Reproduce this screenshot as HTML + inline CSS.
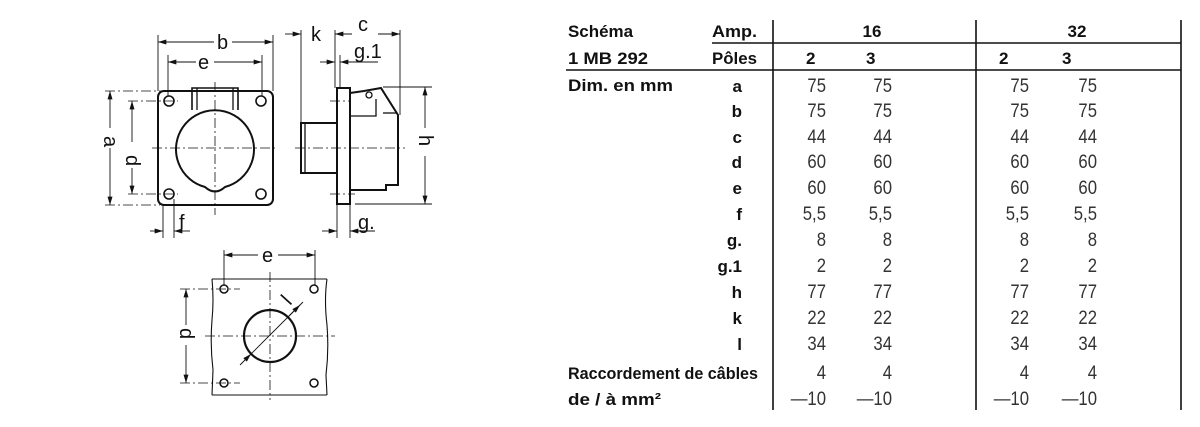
<!DOCTYPE html>
<html><head><meta charset="utf-8"><style>
html,body{margin:0;padding:0;background:#fff;}
svg{display:block;}
.b{font-family:"Liberation Sans",sans-serif;font-weight:bold;font-size:17px;fill:#111;}
.v{font-family:"Liberation Sans",sans-serif;font-size:19px;fill:#333;}
.l{font-family:"Liberation Sans",sans-serif;font-size:20px;fill:#111;}
</style></head><body>
<svg width="1200" height="427" viewBox="0 0 1200 427" xmlns="http://www.w3.org/2000/svg">
<defs>
<marker id="ar" viewBox="0 0 10 6" refX="10" refY="3" markerWidth="12" markerHeight="5" orient="auto-start-reverse" markerUnits="userSpaceOnUse"><path d="M0,0L10,3L0,6z" fill="#111"/></marker>
</defs>
<g stroke="#111" fill="none" stroke-width="1.3">
<!-- front view -->
<rect x="158" y="91" width="115" height="114" rx="6" stroke-width="2"/>
<path d="M192,110 L192,88 L238,88 L238,110" stroke-width="1.6"/>
<line x1="197" y1="88" x2="197" y2="110"/><line x1="233" y1="88" x2="233" y2="110"/>
<path d="M225,187 A39,39 0 1 0 205,187 Q215,196 225,187 Z" stroke-width="2"/>
<circle cx="169" cy="101" r="5" stroke-width="1.6"/><circle cx="261" cy="101" r="5" stroke-width="1.6"/>
<circle cx="169" cy="194" r="5" stroke-width="1.6"/><circle cx="261" cy="194" r="5" stroke-width="1.6"/>
<g stroke-dasharray="10,3,2,3" stroke-width="0.8">
<line x1="152" y1="148" x2="275" y2="148"/><line x1="215" y1="82" x2="215" y2="215"/>
<line x1="105" y1="91" x2="170" y2="91"/><line x1="128" y1="101" x2="178" y2="101"/>
<line x1="128" y1="194" x2="178" y2="194"/><line x1="105" y1="205" x2="160" y2="205"/>
</g>
<g stroke-width="0.9">
<line x1="158" y1="35" x2="158" y2="91"/><line x1="273" y1="35" x2="273" y2="91"/>
<line x1="168" y1="55" x2="168" y2="96"/><line x1="262" y1="55" x2="262" y2="96"/>
<line x1="163" y1="205" x2="163" y2="238"/><line x1="174" y1="199" x2="174" y2="238"/>
<line x1="158" y1="42" x2="214" y2="42" marker-start="url(#ar)"/><line x1="232" y1="42" x2="273" y2="42" marker-end="url(#ar)"/>
<line x1="168" y1="62" x2="196" y2="62" marker-start="url(#ar)"/><line x1="214" y1="62" x2="262" y2="62" marker-end="url(#ar)"/>
<line x1="110" y1="91" x2="110" y2="128" marker-start="url(#ar)"/><line x1="110" y1="148" x2="110" y2="205" marker-end="url(#ar)"/>
<line x1="132" y1="101" x2="132" y2="142" marker-start="url(#ar)"/><line x1="132" y1="168" x2="132" y2="194" marker-end="url(#ar)"/>
<line x1="150" y1="231" x2="163" y2="231" marker-end="url(#ar)"/><line x1="174" y1="231" x2="190" y2="231" marker-start="url(#ar)"/>
</g>
<!-- side view -->
<rect x="337" y="88" width="13" height="116" stroke-width="2"/>
<rect x="301" y="123" width="36" height="50" stroke-width="2"/>
<line x1="305" y1="123" x2="305" y2="173"/>
<path d="M350,93 L350,190 L386,190 L386,185 L398,185 L398,115 L381,88 L364,91 L350,93" stroke-width="2"/>
<path d="M350,116 L376,116 L376,99"/><line x1="383" y1="113" x2="396" y2="113"/>
<circle cx="369" cy="95" r="3"/>
<g stroke-width="0.9">
<line x1="301" y1="30" x2="301" y2="123"/><line x1="335" y1="30" x2="335" y2="88"/>
<line x1="400" y1="30" x2="400" y2="115"/><line x1="340" y1="55" x2="340" y2="88"/>
<line x1="285" y1="34" x2="301" y2="34" marker-end="url(#ar)"/>
<line x1="335" y1="34" x2="352" y2="34" marker-start="url(#ar)"/><line x1="378" y1="34" x2="400" y2="34" marker-end="url(#ar)"/>
<line x1="320" y1="62" x2="335" y2="62" marker-end="url(#ar)"/><line x1="340" y1="62" x2="378" y2="62" marker-start="url(#ar)"/>
<line x1="383" y1="87" x2="432" y2="87"/><line x1="355" y1="204" x2="432" y2="204"/>
<line x1="425" y1="87" x2="425" y2="128" marker-start="url(#ar)"/><line x1="425" y1="156" x2="425" y2="204" marker-end="url(#ar)"/>
<line x1="337" y1="204" x2="337" y2="238"/><line x1="350" y1="204" x2="350" y2="238"/>
<line x1="322" y1="231" x2="337" y2="231" marker-end="url(#ar)"/><line x1="350" y1="231" x2="375" y2="231" marker-start="url(#ar)"/>
</g>
<g stroke-dasharray="10,3,2,3" stroke-width="0.8"><line x1="295" y1="148" x2="405" y2="148"/><line x1="330" y1="101" x2="350" y2="101"/><line x1="330" y1="194" x2="355" y2="194"/></g>
<!-- bottom cutout -->
<path d="M212,279 Q214,300 212,320 Q210,345 213,370 L212,395 M212,279 L327,279 M327,279 Q324,300 327,325 Q329,350 326,375 L327,395 M212,395 L327,395" stroke-width="1.1"/>
<circle cx="270" cy="336" r="26" stroke-width="2.2"/>
<circle cx="224" cy="289" r="4" stroke-width="1.5"/><circle cx="314" cy="289" r="4" stroke-width="1.5"/>
<circle cx="224" cy="383" r="4" stroke-width="1.5"/><circle cx="314" cy="383" r="4" stroke-width="1.5"/>
<g stroke-dasharray="10,3,2,3" stroke-width="0.8">
<line x1="205" y1="336" x2="335" y2="336"/><line x1="270" y1="272" x2="270" y2="400"/>
<line x1="180" y1="289" x2="240" y2="289"/><line x1="180" y1="383" x2="240" y2="383"/>
</g>
<g stroke-width="0.9">
<line x1="224" y1="250" x2="224" y2="285"/><line x1="315" y1="250" x2="315" y2="285"/>
<line x1="224" y1="255" x2="258" y2="255" marker-start="url(#ar)"/><line x1="278" y1="255" x2="315" y2="255" marker-end="url(#ar)"/>
<line x1="186" y1="289" x2="186" y2="325" marker-start="url(#ar)"/><line x1="186" y1="345" x2="186" y2="383" marker-end="url(#ar)"/>
<line x1="240" y1="365" x2="303" y2="302"/>
<line x1="245" y1="360" x2="251" y2="354" marker-end="url(#ar)"/><line x1="300" y1="305" x2="289" y2="316" marker-start="url(#ar)"/>
</g>
<!-- table lines -->
<line x1="773" y1="20" x2="773" y2="410" stroke-width="1.6"/>
<line x1="976" y1="20" x2="976" y2="410" stroke-width="1.6"/>
<line x1="1181" y1="20" x2="1181" y2="410" stroke-width="1.6"/>
<line x1="712" y1="43" x2="1181" y2="43" stroke-width="1.6"/>
<line x1="566" y1="70" x2="1181" y2="70" stroke-width="1.6"/>
</g>
<!-- drawing labels -->
<text class="l" x="217" y="49">b</text>
<text class="l" x="198" y="69">e</text>
<text class="l" x="179" y="229">f</text>
<text class="l" x="311" y="41">k</text>
<text class="l" x="358" y="31">c</text>
<text class="l" x="354" y="58" font-size="17">g.1</text>
<text class="l" x="358" y="229">g.</text>
<text class="l" x="262" y="262">e</text>
<text class="l" transform="translate(104,136) rotate(90)">a</text>
<text class="l" transform="translate(126,155) rotate(90)">d</text>
<text class="l" transform="translate(419,135) rotate(90)">h</text>
<text class="l" transform="translate(180,328) rotate(90)">d</text>
<text class="l" transform="translate(290,306) rotate(-48)">l</text>
<!-- table text -->
<g class="b">
<text x="568" y="37" textLength="65" lengthAdjust="spacingAndGlyphs">Schéma</text><text x="712" y="37" textLength="45" lengthAdjust="spacingAndGlyphs">Amp.</text>
<text x="872" y="37" text-anchor="middle">16</text><text x="1077" y="37" text-anchor="middle">32</text>
<text x="568" y="64" textLength="80" lengthAdjust="spacingAndGlyphs">1 MB 292</text><text x="712" y="64" textLength="45" lengthAdjust="spacingAndGlyphs">Pôles</text>
<text x="806" y="64">2</text><text x="866" y="64">3</text><text x="999" y="64">2</text><text x="1062" y="64">3</text>
<text x="568" y="91" textLength="105" lengthAdjust="spacingAndGlyphs">Dim. en mm</text>
<g text-anchor="end">
<text x="742" y="92">a</text><text x="742" y="117">b</text><text x="742" y="143">c</text><text x="742" y="168">d</text>
<text x="742" y="194">e</text><text x="742" y="220">f</text><text x="742" y="246">g.</text><text x="742" y="272">g.1</text>
<text x="742" y="298">h</text><text x="742" y="324">k</text><text x="742" y="350">l</text>
</g>
<text x="568" y="379" textLength="190" lengthAdjust="spacingAndGlyphs">Raccordement de câbles</text>
<text x="568" y="405" textLength="93" lengthAdjust="spacingAndGlyphs">de / à mm²</text>
</g>
<g id="c1" class="v" text-anchor="end" transform="translate(826,0) scale(0.88,1)">
<text y="92">75</text><text y="117">75</text><text y="143">44</text><text y="168">60</text><text y="194">60</text><text y="220">5,5</text><text y="246">8</text><text y="272">2</text><text y="298">77</text><text y="324">22</text><text y="350">34</text><text y="379">4</text><text y="405">—10</text>
</g>
<g class="v" text-anchor="end" transform="translate(892,0) scale(0.88,1)">
<text y="92">75</text><text y="117">75</text><text y="143">44</text><text y="168">60</text><text y="194">60</text><text y="220">5,5</text><text y="246">8</text><text y="272">2</text><text y="298">77</text><text y="324">22</text><text y="350">34</text><text y="379">4</text><text y="405">—10</text>
</g>
<g class="v" text-anchor="end" transform="translate(1029,0) scale(0.88,1)">
<text y="92">75</text><text y="117">75</text><text y="143">44</text><text y="168">60</text><text y="194">60</text><text y="220">5,5</text><text y="246">8</text><text y="272">2</text><text y="298">77</text><text y="324">22</text><text y="350">34</text><text y="379">4</text><text y="405">—10</text>
</g>
<g class="v" text-anchor="end" transform="translate(1097,0) scale(0.88,1)">
<text y="92">75</text><text y="117">75</text><text y="143">44</text><text y="168">60</text><text y="194">60</text><text y="220">5,5</text><text y="246">8</text><text y="272">2</text><text y="298">77</text><text y="324">22</text><text y="350">34</text><text y="379">4</text><text y="405">—10</text>
</g>
</svg>
</body></html>
